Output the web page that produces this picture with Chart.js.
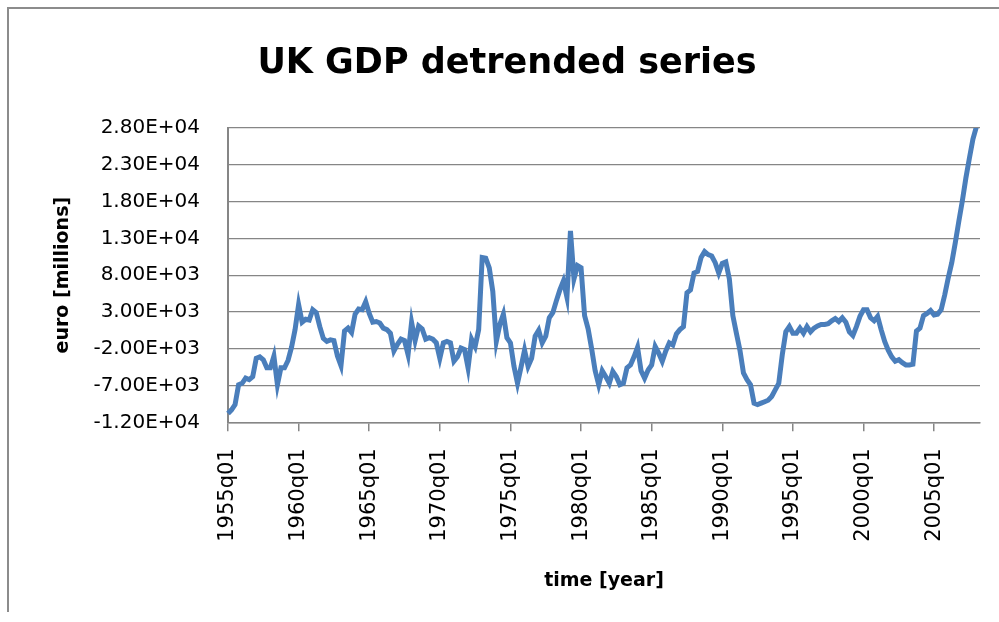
<!DOCTYPE html>
<html>
<head>
<meta charset="utf-8">
<title>UK GDP detrended series</title>
<script src="https://cdn.jsdelivr.net/npm/chart.js@4/dist/chart.umd.min.js"></script>
<style>
  html, body { margin: 0; padding: 0; background: #ffffff; }
  #wrap { width: 999px; height: 622px; position: relative; }
</style>
</head>
<body>
<div id="wrap"><canvas id="gdpChart" width="999" height="622"></canvas></div>
<script>
// quarterly series, 1955q01 .. 2008q02
const FIRST_YEAR = 1955;
const LAST_YEAR = 2008;
const LAST_QUARTER = 2;

const CHART_TITLE = 'UK GDP detrended series';

// detrended GDP, euro millions, one row per year
const gdpDetrended = [
    -10800, -10300, -9600, -6900,   // 1955
    -6700, -6000, -6200, -5800,     // 1956
    -3300, -3100, -3500, -4600,     // 1957
    -4600, -3000, -6900, -4600,     // 1958
    -4600, -3600, -1800, 600,       // 1959
    4000, 1600, 2000, 1900,         // 1960
    3300, 2900, 1000, -600,         // 1961
    -1000, -800, -900, -3000,       // 1962
    -4300, 400, 800, 200,           // 1963
    2700, 3400, 3300, 4400,         // 1964
    2800, 1600, 1700, 1500,         // 1965
    800, 600, 100, -2300,           // 1966
    -1400, -700, -900, -2800,       // 1967
    1600, -900, 1100, 700,          // 1968
    -700, -500, -700, -1200,        // 1969
    -3300, -1200, -1000, -1200,     // 1970
    -3700, -3100, -1900, -2100,     // 1971
    -4600, -700, -1700, 600,        // 1972
    10400, 10300, 9000, 5800,       // 1973
    -1000, 1300, 2700, -500,        // 1974
    -1200, -4400, -6700, -4500,     // 1975
    -2200, -4400, -3300, -300,      // 1976
    500, -1200, -300, 2200,         // 1977
    2900, 4500, 6000, 7200,         // 1978
    5000, 14000, 7500, 9300,        // 1979
    9000, 2500, 700, -2000,         // 1980
    -5000, -6900, -5000, -5800,     // 1981
    -6700, -5100, -5800, -6900,     // 1982
    -6700, -4600, -4200, -3100,     // 1983
    -1800, -5000, -6000, -4900,     // 1984
    -4200, -1700, -2600, -3700,     // 1985
    -2300, -1200, -1500, 0,         // 1986
    600, 1000, 5600, 6000,          // 1987
    8300, 8500, 10400, 11200,       // 1988
    10800, 10600, 9700, 8300,       // 1989
    9600, 9800, 7500, 2500,         // 1990
    100, -2200, -5300, -6200,       // 1991
    -6900, -9400, -9600, -9400,     // 1992
    -9200, -9000, -8500, -7600,     // 1993
    -6700, -2800, 300, 1000,        // 1994
    100, 100, 800, 100,             // 1995
    1000, 300, 800, 1100,           // 1996
    1300, 1300, 1400, 1800,         // 1997
    2100, 1700, 2200, 1600,         // 1998
    300, -200, 1000, 2400,          // 1999
    3300, 3300, 2200, 1800,         // 2000
    2400, 600, -1000, -2200,        // 2001
    -3100, -3700, -3500, -3900,     // 2002
    -4200, -4200, -4100, 400,       // 2003
    800, 2500, 2800, 3200,          // 2004
    2600, 2700, 3300, 5300,         // 2005
    7600, 9700, 12400, 15300,       // 2006
    18100, 21200, 23900, 26500,     // 2007
    28200, 28700                    // 2008
];

// value axis: -1.20E+04 .. 2.80E+04 in steps of 5000
const Y_MIN = -12000;
const Y_MAX = 28000;
const Y_STEP = 5000;
// label every 5 years (20 quarters)
const LABEL_EVERY = 20;

const quarterLabels = [];
for (let y = FIRST_YEAR; y <= LAST_YEAR; y++) {
    for (let q = 1; q <= 4; q++) {
        if (y === LAST_YEAR && q > LAST_QUARTER) break;
        quarterLabels.push(y + 'q0' + q);
    }
}

// 28000 -> "2.80E+04"
function sciLabel(v) {
    const parts = Number(v).toExponential(2).split('e');
    const sign = parts[1][0];
    const exp = parts[1].slice(1).padStart(2, '0');
    return parts[0] + 'E' + sign + exp;
}

const AXIS_GREY = '#868686';
const FONT = 'DejaVu Sans';

// grey frame round the chart object (only top and left edges are in view)
// plus the title, centred on the whole object rather than the plot
const frameAndTitle = {
    id: 'frameAndTitle',
    beforeDraw(chart) {
        const ctx = chart.ctx;
        ctx.save();
        ctx.strokeStyle = '#8c8c8c';
        ctx.lineWidth = 2;
        ctx.beginPath();
        ctx.moveTo(8, 612);
        ctx.lineTo(8, 8);
        ctx.lineTo(999, 8);
        ctx.stroke();

        ctx.fillStyle = '#000000';
        ctx.font = 'bold 35px "' + FONT + '"';
        ctx.textAlign = 'center';
        ctx.textBaseline = 'alphabetic';
        ctx.fillText(CHART_TITLE, 507, 73);
        ctx.restore();
    }
};

new Chart(document.getElementById('gdpChart'), {
    type: 'line',
    data: {
        labels: quarterLabels,
        datasets: [{
            label: 'UK GDP detrended',
            data: gdpDetrended,
            borderColor: '#4a7ebb',
            borderWidth: 5,
            pointRadius: 0,
            tension: 0,
            fill: false
        }]
    },
    options: {
        responsive: false,
        animation: false,
        layout: { padding: { left: 0, right: 19, top: 128, bottom: 0 } },
        plugins: {
            legend: { display: false },
            tooltip: { enabled: false },
            title: { display: false }
        },
        scales: {
            x: {
                type: 'category',
                offset: false,
                afterBuildTicks: function (axis) {
                    axis.ticks = axis.ticks.filter(t => t.value % LABEL_EVERY === 0);
                },
                afterFit: function (scale) { scale.height = 199.7; },
                ticks: {
                    autoSkip: false,
                    maxRotation: 90,
                    minRotation: 90,
                    padding: 17,
                    color: '#000000',
                    font: { family: FONT, size: 21 },
                    callback: function (value) { return this.getLabelForValue(value); }
                },
                grid: {
                    drawOnChartArea: false,
                    drawTicks: true,
                    tickLength: 9,
                    color: AXIS_GREY,
                    lineWidth: 1.5
                },
                border: { color: AXIS_GREY, width: 1.5 },
                title: {
                    display: true,
                    text: 'time [year]',
                    color: '#000000',
                    font: { family: FONT, size: 19, weight: 'bold' },
                    padding: { top: 0, bottom: 30 }
                }
            },
            y: {
                min: Y_MIN,
                max: Y_MAX,
                afterFit: function (scale) { scale.width = 228; },
                ticks: {
                    stepSize: Y_STEP,
                    padding: 28,
                    color: '#000000',
                    font: { family: FONT, size: 20 },
                    callback: function (value) { return sciLabel(value); }
                },
                grid: {
                    color: AXIS_GREY,
                    lineWidth: 1.2,
                    drawTicks: false
                },
                border: { color: AXIS_GREY, width: 2 },
                title: {
                    display: true,
                    text: 'euro [millions]',
                    color: '#000000',
                    font: { family: FONT, size: 19, weight: 'bold' },
                    padding: { top: 52, bottom: 0 }
                }
            }
        }
    },
    plugins: [frameAndTitle]
});
</script>
</body>
</html>
